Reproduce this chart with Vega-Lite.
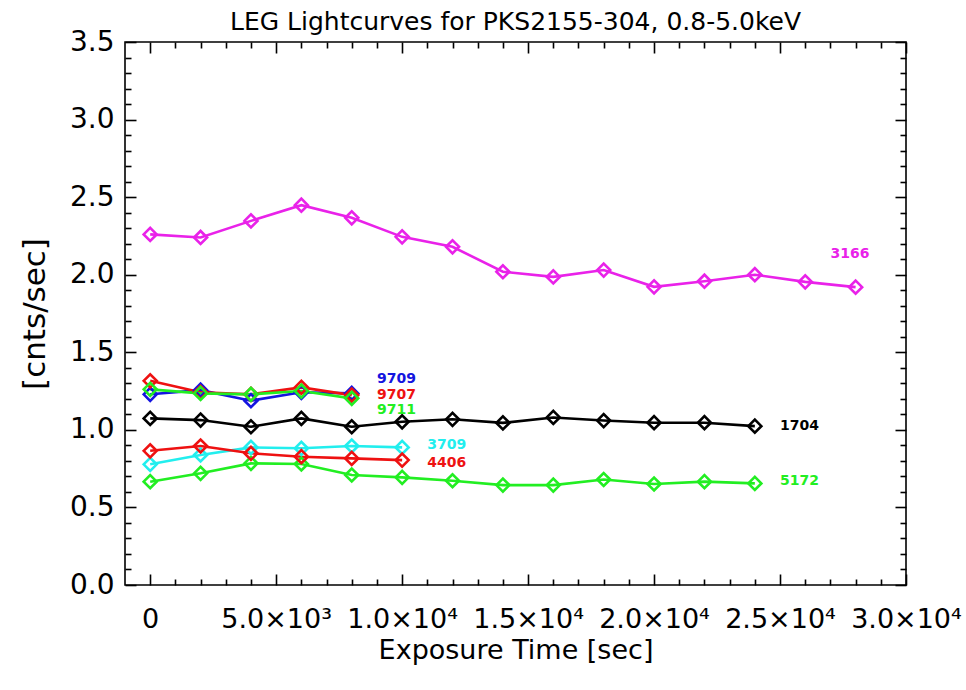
{
  "$schema": "https://vega.github.io/schema/vega-lite/v6.json",
  "width": 781,
  "height": 543,
  "autosize": {"type": "none"},
  "padding": {"left": 125, "top": 42, "right": 60, "bottom": 105},
  "background": "white",
  "title": {
    "text": "LEG Lightcurves for PKS2155-304, 0.8-5.0keV",
    "font": "DejaVu Sans",
    "fontSize": 25,
    "fontWeight": "normal",
    "color": "black",
    "anchor": "middle",
    "offset": -7
  },
  "config": {
    "view": {"stroke": "black", "strokeWidth": 1.6},
    "axis": {
      "domain": false,
      "grid": false,
      "tickColor": "black",
      "tickWidth": 1.6,
      "labelColor": "black",
      "titleColor": "black",
      "labelFont": "DejaVu Sans",
      "titleFont": "DejaVu Sans",
      "titleFontWeight": "normal",
      "labelOverlap": false,
      "labelFlush": false,
      "labelBound": false
    }
  },
  "datasets": {
    "curves": [
      {"obs": "3166", "t": 0, "rate": 2.26},
      {"obs": "3166", "t": 2000, "rate": 2.24},
      {"obs": "3166", "t": 4000, "rate": 2.347},
      {"obs": "3166", "t": 6000, "rate": 2.448},
      {"obs": "3166", "t": 8000, "rate": 2.367},
      {"obs": "3166", "t": 10000, "rate": 2.244},
      {"obs": "3166", "t": 12000, "rate": 2.18},
      {"obs": "3166", "t": 14000, "rate": 2.019},
      {"obs": "3166", "t": 16000, "rate": 1.986},
      {"obs": "3166", "t": 18000, "rate": 2.03},
      {"obs": "3166", "t": 20000, "rate": 1.922},
      {"obs": "3166", "t": 22000, "rate": 1.958},
      {"obs": "3166", "t": 24000, "rate": 2.0},
      {"obs": "3166", "t": 26000, "rate": 1.954},
      {"obs": "3166", "t": 28000, "rate": 1.92},
      {"obs": "1704", "t": 0, "rate": 1.074},
      {"obs": "1704", "t": 2000, "rate": 1.063},
      {"obs": "1704", "t": 4000, "rate": 1.02},
      {"obs": "1704", "t": 6000, "rate": 1.074},
      {"obs": "1704", "t": 8000, "rate": 1.02},
      {"obs": "1704", "t": 10000, "rate": 1.052},
      {"obs": "1704", "t": 12000, "rate": 1.068},
      {"obs": "1704", "t": 14000, "rate": 1.045},
      {"obs": "1704", "t": 16000, "rate": 1.08},
      {"obs": "1704", "t": 18000, "rate": 1.06},
      {"obs": "1704", "t": 20000, "rate": 1.046},
      {"obs": "1704", "t": 22000, "rate": 1.046},
      {"obs": "1704", "t": 24000, "rate": 1.024},
      {"obs": "5172", "t": 0, "rate": 0.666},
      {"obs": "5172", "t": 2000, "rate": 0.72},
      {"obs": "5172", "t": 4000, "rate": 0.784},
      {"obs": "5172", "t": 6000, "rate": 0.78},
      {"obs": "5172", "t": 8000, "rate": 0.709},
      {"obs": "5172", "t": 10000, "rate": 0.694},
      {"obs": "5172", "t": 12000, "rate": 0.672},
      {"obs": "5172", "t": 14000, "rate": 0.644},
      {"obs": "5172", "t": 16000, "rate": 0.644},
      {"obs": "5172", "t": 18000, "rate": 0.68},
      {"obs": "5172", "t": 20000, "rate": 0.651},
      {"obs": "5172", "t": 22000, "rate": 0.666},
      {"obs": "5172", "t": 24000, "rate": 0.655},
      {"obs": "3709", "t": 0, "rate": 0.778},
      {"obs": "3709", "t": 2000, "rate": 0.838},
      {"obs": "3709", "t": 4000, "rate": 0.887},
      {"obs": "3709", "t": 6000, "rate": 0.881},
      {"obs": "3709", "t": 8000, "rate": 0.896},
      {"obs": "3709", "t": 10000, "rate": 0.887},
      {"obs": "4406", "t": 0, "rate": 0.865},
      {"obs": "4406", "t": 2000, "rate": 0.896},
      {"obs": "4406", "t": 4000, "rate": 0.849},
      {"obs": "4406", "t": 6000, "rate": 0.827},
      {"obs": "4406", "t": 8000, "rate": 0.816},
      {"obs": "4406", "t": 10000, "rate": 0.805},
      {"obs": "9709", "t": 0, "rate": 1.229},
      {"obs": "9709", "t": 2000, "rate": 1.256},
      {"obs": "9709", "t": 4000, "rate": 1.188},
      {"obs": "9709", "t": 6000, "rate": 1.242},
      {"obs": "9709", "t": 8000, "rate": 1.235},
      {"obs": "9707", "t": 0, "rate": 1.316},
      {"obs": "9707", "t": 2000, "rate": 1.242},
      {"obs": "9707", "t": 4000, "rate": 1.229},
      {"obs": "9707", "t": 6000, "rate": 1.274},
      {"obs": "9707", "t": 8000, "rate": 1.224},
      {"obs": "9711", "t": 0, "rate": 1.261},
      {"obs": "9711", "t": 2000, "rate": 1.235},
      {"obs": "9711", "t": 4000, "rate": 1.229},
      {"obs": "9711", "t": 6000, "rate": 1.25},
      {"obs": "9711", "t": 8000, "rate": 1.203}
    ],
    "tags": [
      {"obs": "3166", "t": 27000, "rate": 2.131},
      {"obs": "1704", "t": 25000, "rate": 1.024},
      {"obs": "5172", "t": 25000, "rate": 0.672},
      {"obs": "3709", "t": 11000, "rate": 0.902},
      {"obs": "4406", "t": 11000, "rate": 0.786},
      {"obs": "9709", "t": 9000, "rate": 1.329},
      {"obs": "9707", "t": 9000, "rate": 1.226},
      {"obs": "9711", "t": 9000, "rate": 1.126}
    ]
  },
  "resolve": {"axis": {"x": "independent", "y": "independent"}},
  "layer": [
    {
      "data": {"name": "curves"},
      "mark": {"type": "line", "strokeWidth": 2.6},
      "encoding": {
        "x": {
          "field": "t",
          "type": "quantitative",
          "scale": {"domain": [-1000, 30000], "nice": false, "zero": false},
          "axis": {
            "orient": "bottom",
            "values": [0, 5000, 10000, 15000, 20000, 25000, 30000],
            "tickSize": -11,
            "labelPadding": 32,
            "labelFontSize": 27,
            "labelExpr": "datum.value == 0 ? '0' : datum.value < 10000 ? format(datum.value / 1000, '.1f') + '×10³' : format(datum.value / 10000, '.1f') + '×10⁴'",
            "title": "Exposure Time [sec]",
            "titleFontSize": 27,
            "titlePadding": 5
          }
        },
        "y": {
          "field": "rate",
          "type": "quantitative",
          "scale": {"domain": [0, 3.5], "nice": false, "zero": false},
          "axis": {
            "orient": "left",
            "values": [0, 0.5, 1, 1.5, 2, 2.5, 3, 3.5],
            "tickSize": -11,
            "labelPadding": 22,
            "labelFontSize": 28,
            "format": ".1f",
            "title": "[cnts/sec]",
            "titleFontSize": 31,
            "titlePadding": 18
          }
        },
        "color": {
          "field": "obs",
          "type": "nominal",
          "scale": {
            "domain": ["3166", "1704", "5172", "3709", "4406", "9709", "9707", "9711"],
            "range": ["#e922e9", "#000000", "#22ee22", "#22eeee", "#ee1111", "#1414e0", "#ee1111", "#22ee22"]
          },
          "legend": null
        }
      }
    },
    {
      "data": {"name": "curves"},
      "mark": {"type": "point", "shape": "diamond", "filled": false, "size": 170, "strokeWidth": 2.6, "opacity": 1},
      "encoding": {
        "x": {
          "field": "t",
          "type": "quantitative",
          "axis": {
            "orient": "top",
            "values": [0, 5000, 10000, 15000, 20000, 25000, 30000],
            "tickSize": -11,
            "labels": false,
            "title": null
          }
        },
        "y": {
          "field": "rate",
          "type": "quantitative",
          "axis": {
            "orient": "right",
            "values": [0, 0.5, 1, 1.5, 2, 2.5, 3, 3.5],
            "tickSize": -11,
            "labels": false,
            "title": null
          }
        },
        "color": {"field": "obs", "type": "nominal", "legend": null}
      }
    },
    {
      "data": {"name": "tags"},
      "mark": {"type": "text", "align": "left", "baseline": "middle", "font": "DejaVu Sans", "fontWeight": "bold", "fontSize": 14},
      "encoding": {
        "x": {
          "field": "t",
          "type": "quantitative",
          "axis": {
            "orient": "bottom",
            "values": [1000, 2000, 3000, 4000, 6000, 7000, 8000, 9000, 11000, 12000, 13000, 14000, 16000, 17000, 18000, 19000, 21000, 22000, 23000, 24000, 26000, 27000, 28000, 29000],
            "tickSize": -6,
            "labels": false,
            "title": null
          }
        },
        "y": {
          "field": "rate",
          "type": "quantitative",
          "axis": {
            "orient": "left",
            "values": [0.1, 0.2, 0.3, 0.4, 0.6, 0.7, 0.8, 0.9, 1.1, 1.2, 1.3, 1.4, 1.6, 1.7, 1.8, 1.9, 2.1, 2.2, 2.3, 2.4, 2.6, 2.7, 2.8, 2.9, 3.1, 3.2, 3.3, 3.4],
            "tickSize": -6,
            "labels": false,
            "title": null
          }
        },
        "text": {"field": "obs"},
        "color": {"field": "obs", "type": "nominal", "legend": null}
      }
    },
    {
      "data": {"name": "tags"},
      "mark": {"type": "point", "opacity": 0},
      "encoding": {
        "x": {
          "field": "t",
          "type": "quantitative",
          "axis": {
            "orient": "top",
            "values": [1000, 2000, 3000, 4000, 6000, 7000, 8000, 9000, 11000, 12000, 13000, 14000, 16000, 17000, 18000, 19000, 21000, 22000, 23000, 24000, 26000, 27000, 28000, 29000],
            "tickSize": -6,
            "labels": false,
            "title": null
          }
        },
        "y": {
          "field": "rate",
          "type": "quantitative",
          "axis": {
            "orient": "right",
            "values": [0.1, 0.2, 0.3, 0.4, 0.6, 0.7, 0.8, 0.9, 1.1, 1.2, 1.3, 1.4, 1.6, 1.7, 1.8, 1.9, 2.1, 2.2, 2.3, 2.4, 2.6, 2.7, 2.8, 2.9, 3.1, 3.2, 3.3, 3.4],
            "tickSize": -6,
            "labels": false,
            "title": null
          }
        }
      }
    }
  ]
}
